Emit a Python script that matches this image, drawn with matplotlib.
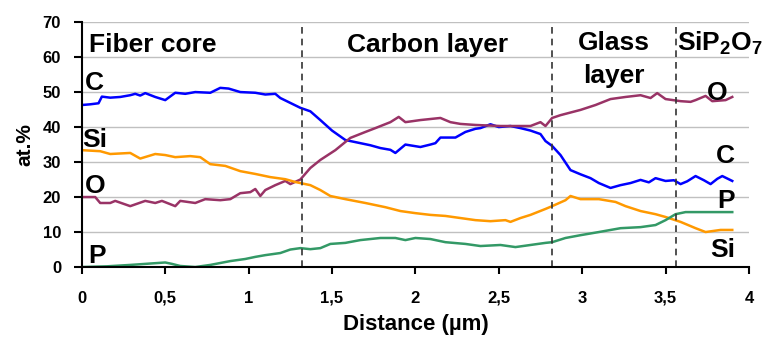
import matplotlib.pyplot as plt
from matplotlib.ticker import FuncFormatter

plt.rcParams['font.family'] = ['Liberation Sans', 'DejaVu Sans']
plt.rcParams['font.weight'] = 'bold'

# Carbon (blue)
c_x = [0, 0.05, 0.1, 0.12, 0.17, 0.23, 0.29, 0.32, 0.35, 0.38, 0.44, 0.5, 0.56, 0.62, 0.68,
       0.77, 0.83, 0.88, 0.95, 1.04, 1.1, 1.16, 1.19, 1.25, 1.31, 1.37, 1.43, 1.5, 1.58, 1.67,
       1.73, 1.79, 1.85, 1.88, 1.94, 2.03, 2.09, 2.12, 2.15, 2.24, 2.3, 2.36, 2.39, 2.45, 2.5,
       2.57, 2.63, 2.69, 2.75, 2.78, 2.82, 2.87, 2.93, 2.99, 3.05, 3.1, 3.17, 3.23, 3.29, 3.35,
       3.4, 3.44, 3.5, 3.55, 3.59, 3.63, 3.68, 3.73, 3.77, 3.81, 3.84, 3.9]
c_y = [46.3, 46.5, 46.8, 48.7, 48.4, 48.6, 49.1, 49.5, 49.0, 49.7, 48.6, 47.7, 49.8, 49.5, 50.0,
       49.8, 51.2, 51.0, 50.0, 49.8, 49.3, 49.5, 48.3, 46.9, 45.5, 44.5, 42.0, 39.0, 36.3, 35.4,
       34.8, 34.0, 33.5, 32.6, 35.0, 34.3, 35.0, 35.4, 37.0, 37.0, 38.6, 39.5, 39.7, 40.8, 40.0,
       40.3, 39.7, 39.0, 38.0, 36.0, 34.6, 32.0, 27.7, 26.5, 25.4, 24.0, 22.6, 23.4, 24.0, 24.9,
       24.2, 25.4, 24.6, 24.8, 23.7, 24.5, 26.0, 24.8, 23.7, 25.2, 26.0, 24.6]

# Oxygen (purple)
o_x = [0, 0.08, 0.11, 0.17, 0.2, 0.29, 0.38, 0.44, 0.48, 0.56, 0.59, 0.68, 0.74, 0.83, 0.89,
       0.95, 1.01, 1.04, 1.07, 1.1, 1.16, 1.22, 1.25, 1.31, 1.37, 1.43, 1.52, 1.61, 1.7, 1.76,
       1.85, 1.9, 1.94, 2.03, 2.09, 2.15, 2.21, 2.27, 2.36, 2.51, 2.69, 2.75, 2.78, 2.82, 2.87,
       2.99, 3.08, 3.17, 3.26, 3.35, 3.41, 3.45, 3.5, 3.59, 3.65, 3.68, 3.74, 3.78, 3.86, 3.9]
o_y = [20.0, 20.0, 18.3, 18.3, 18.9, 17.4, 18.9, 18.3, 18.9, 17.4, 18.9, 18.3, 19.4, 19.1, 19.4,
       21.1, 21.4, 22.3, 20.3, 22.0, 23.4, 24.6, 23.7, 25.0, 28.3, 30.6, 33.4, 36.9, 38.6, 39.7,
       41.4, 42.9, 41.4, 42.0, 42.3, 42.6, 41.4, 40.9, 40.6, 40.3, 40.3, 41.4, 40.3, 42.6, 43.4,
       44.9, 46.3, 48.0, 48.6, 49.1, 48.3, 49.7, 48.0, 47.4, 47.2, 47.7, 48.9, 47.4, 47.7, 48.6]

# Silicon (orange)
si_x = [0, 0.11, 0.17, 0.29, 0.35, 0.44, 0.5, 0.56, 0.65, 0.71, 0.77, 0.86, 0.95, 1.04, 1.13,
        1.22, 1.28, 1.31, 1.37, 1.43, 1.49, 1.58, 1.7, 1.82, 1.91, 2.0, 2.09, 2.18, 2.27, 2.36,
        2.45, 2.54, 2.57, 2.63, 2.69, 2.78, 2.82, 2.9, 2.93, 2.99, 3.1, 3.2, 3.26, 3.35, 3.44,
        3.5, 3.59, 3.68, 3.74, 3.83, 3.9]
si_y = [33.4, 33.1, 32.3, 32.6, 31.0, 32.3, 32.0, 31.4, 31.7, 31.4, 29.4, 28.9, 27.4, 26.6, 25.7,
        25.1, 24.3, 24.0, 23.4, 22.0, 20.3, 19.4, 18.3, 17.1, 16.0, 15.4, 14.9, 14.6, 14.0, 13.4,
        13.1, 13.4, 12.9, 14.0, 14.9, 16.6, 17.4, 19.1, 20.3, 19.4, 19.4, 18.6, 17.4, 16.0, 15.1,
        14.3, 12.9, 11.1, 10.0, 10.6, 10.6]

# Phosphorus (green)
p_x = [0, 0.15, 0.29, 0.41, 0.5, 0.54, 0.59, 0.68, 0.77, 0.89, 0.98, 1.04, 1.1, 1.19, 1.25,
       1.31, 1.37, 1.43, 1.49, 1.58, 1.67, 1.79, 1.88, 1.94, 2.0, 2.09, 2.18, 2.3, 2.39, 2.51,
       2.6, 2.69, 2.78, 2.82, 2.9, 2.99, 3.1, 3.23, 3.35, 3.44, 3.5, 3.56, 3.62, 3.77, 3.9]
p_y = [0.0, 0.2, 0.6, 1.0, 1.3, 0.9, 0.3, 0.0, 0.6, 1.7, 2.3, 2.9, 3.4, 4.0, 5.0,
       5.4, 5.1, 5.4, 6.6, 6.9, 7.7, 8.3, 8.3, 7.7, 8.3, 8.0, 7.1, 6.6, 6.0, 6.3,
       5.7, 6.3, 6.9, 7.1, 8.3, 9.1, 10.0, 11.1, 11.4, 12.0, 13.4, 15.1, 15.7, 15.7, 15.7]

boundaries = [1.32, 2.82, 3.56]

fig = plt.figure(figsize=(7.65, 3.45), dpi=100)
ax = fig.add_axes([0.107, 0.226, 0.872, 0.71])

ax.plot(c_x, c_y, color='#0000ff', lw=1.8)
ax.plot(o_x, o_y, color='#993366', lw=1.8)
ax.plot(si_x, si_y, color='#ff9900', lw=1.8)
ax.plot(p_x, p_y, color='#339966', lw=1.8)

for b in boundaries:
    ax.axvline(b, color='#333333', ls=(0, (4, 3)), lw=1.2)

ax.set_xlim(0, 4)
ax.set_ylim(0, 70)
ax.set_yticks(range(0, 71, 10))
ax.set_xticks([0, 0.5, 1, 1.5, 2, 2.5, 3, 3.5, 4])
ax.xaxis.set_major_formatter(FuncFormatter(lambda v, p: ('%g' % v).replace('.', ',')))
ax.grid(axis='y', color='#c0c0c0', lw=1)
ax.set_axisbelow(True)
for s in ['top', 'right']:
    ax.spines[s].set_visible(False)
ax.spines['left'].set_linewidth(1.5)
ax.spines['bottom'].set_linewidth(1.5)
ax.tick_params(axis='x', direction='out', length=5, width=1.5, pad=12, labelsize=12)
ax.tick_params(axis='y', direction='out', length=6, width=1.5, pad=9, labelsize=12)
ax.set_xlabel('Distance (µm)', fontsize=16, fontweight='bold', labelpad=6)
ax.set_ylabel('at.%', fontsize=15, fontweight='bold', labelpad=6)

big = dict(fontsize=19, fontweight='bold', color='black')
ax.text(0.04, 61.4, 'Fiber core', **big)
ax.text(2.07, 61.4, 'Carbon layer', ha='center', **big)
ax.text(3.19, 62, 'Glass', ha='center', **big)
ax.text(3.19, 52.5, 'layer', ha='center', **big)
ax.text(3.57, 62, 'SiP$_{\\mathregular{2}}$O$_{\\mathregular{7}}$', **big)

lab = dict(fontsize=19, fontweight='bold', color='black')
ax.text(0.02, 50.6, 'C', **lab)
ax.text(0.0, 34.3, 'Si', **lab)
ax.text(0.02, 21.1, 'O', **lab)
ax.text(0.04, 1.1, 'P', **lab)
ax.text(3.75, 47.7, 'O', **lab)
ax.text(3.8, 29.7, 'C', **lab)
ax.text(3.81, 16.9, 'P', **lab)
ax.text(3.77, 2.9, 'Si', **lab)

fig.savefig('out.png', dpi=100)
